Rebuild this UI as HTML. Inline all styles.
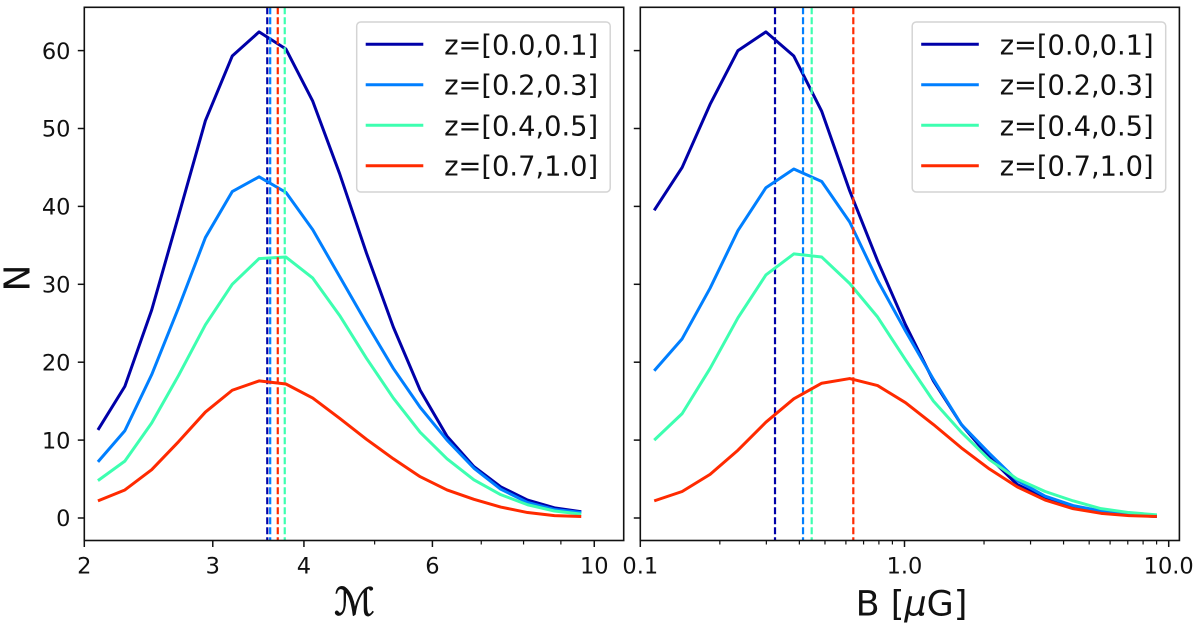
<!DOCTYPE html>
<html>
<head>
<meta charset="utf-8">
<title>Distribution chart</title>
<style>
html,body{margin:0;padding:0;background:#fff;width:1200px;height:627px;overflow:hidden}
svg{display:block;filter:blur(0.35px)}
text{font-family:"DejaVu Sans","Liberation Sans",sans-serif;fill:#111}
</style>
</head>
<body>
<svg id="chart" xmlns="http://www.w3.org/2000/svg" width="1200" height="627" viewBox="0 0 1200 627"></svg>
<script>
const seriesLabels = ["z=[0.0,0.1]", "z=[0.2,0.3]", "z=[0.4,0.5]", "z=[0.7,1.0]"];
const seriesColors = ["#0000a8", "#007fff", "#3dffb0", "#ff2a00"];

const machValues = [2.088,2.273,2.474,2.693,2.931,3.190,3.472,3.779,4.113,4.477,4.873,5.304,5.773,6.283,6.839,7.443,8.102,8.818,9.598];
const machCounts0 = [11.3,16.9,26.7,38.8,51,59.3,62.4,60.2,53.5,44.2,34,24.5,16.4,10.5,6.6,4,2.3,1.3,0.8];
const machCounts1 = [7.2,11.2,18.4,27,36,41.9,43.8,41.8,37,31,25,19.2,14.2,10,6.4,3.7,2,1.1,0.7];
const machCounts2 = [4.8,7.3,12.2,18.3,24.8,30,33.3,33.5,30.8,26,20.5,15.4,11,7.6,4.9,3,1.7,0.9,0.5];
const machCounts3 = [2.2,3.6,6.2,9.8,13.6,16.4,17.6,17.2,15.4,12.8,10.1,7.6,5.3,3.6,2.4,1.4,0.7,0.3,0.2];
const machMeans = [3.563,3.596,3.765,3.683];

const fieldValues = [0.1129,0.144,0.1837,0.2342,0.2988,0.3811,0.4861,0.6202,0.7911,1.009,1.287,1.642,2.094,2.671,3.407,4.346,5.544,7.072,9.02];
const fieldCounts0 = [39.5,45,53.1,60,62.4,59.3,52.2,42,33,24.8,17.6,12,7.8,4.3,2.5,1.4,0.8,0.4,0.2];
const fieldCounts1 = [18.9,23,29.5,36.9,42.4,44.8,43.2,38,30.5,24,17.8,12,8.3,4.8,2.8,1.6,0.9,0.5,0.3];
const fieldCounts2 = [10,13.4,19.2,25.7,31.2,33.9,33.5,30.1,25.8,20.3,15,11,7.5,5,3.4,2.2,1.2,0.7,0.4];
const fieldCounts3 = [2.2,3.4,5.6,8.7,12.3,15.3,17.3,17.9,17,14.8,12,9,6.3,4,2.3,1.2,0.6,0.3,0.2];
const fieldMeans = [0.3235,0.413,0.4454,0.6401];

const yTickValues = [0,10,20,30,40,50,60];
const machMajorTicks = [2,3,4,6,10];
const machMajorLabels = ["2","3","4","6","10"];
const machMinorTicks = [5,7,8,9];
const fieldMajorTicks = [0.1,1,10];
const fieldMajorLabels = ["0.1","1.0","10.0"];
const fieldMinorTicks = [0.2,0.3,0.4,0.5,0.6,0.7,0.8,0.9,2,3,4,5,6,7,8,9];

const NS = "http://www.w3.org/2000/svg";
const root = document.getElementById("chart");
const TOP = 7.3, BOTTOM = 540.5;

function yScale(v){ return 518 - v * 7.79; }
function logScale(v, x0, v0, pxPerDecade){ return x0 + (Math.log10(v) - Math.log10(v0)) * pxPerDecade; }
function machX(v){ return logScale(v, 84.3, 2, 729.6); }
function fieldX(v){ return logScale(v, 640.3, 0.1, 264.2); }

function mk(tag, attrs, parent){
  const el = document.createElementNS(NS, tag);
  for (const k in attrs) el.setAttribute(k, attrs[k]);
  (parent || root).appendChild(el);
  return el;
}

function drawPanel(cfg){
  const g = mk("g", {});
  
  

  cfg.series.forEach(function(vals, i){
    const pts = vals.map(function(v, j){ return cfg.x(cfg.xs[j]).toFixed(2) + "," + yScale(v).toFixed(2); }).join(" ");
    const line = mk("polyline", {points: pts, fill: "none", stroke: seriesColors[i], "stroke-width": 3, "stroke-linejoin": "round"}, g);
    
    
    const mx = cfg.x(cfg.means[i]);
    const vl = mk("line", {x1: mx, x2: mx, y1: TOP, y2: BOTTOM, stroke: seriesColors[i], "stroke-width": 2.2, "stroke-dasharray": "7 3"}, g);
    
    
  });

  const frame = mk("rect", {x: cfg.left, y: TOP, width: cfg.right - cfg.left, height: BOTTOM - TOP, fill: "none", stroke: "#111", "stroke-width": 1.6}, g);
  
  

  yTickValues.forEach(function(v){
    const y = yScale(v);
    const t = mk("line", {x1: cfg.left - 6.5, x2: cfg.left, y1: y, y2: y, stroke: "#111", "stroke-width": 1.5}, g);
    
    
    if (cfg.yLabels) {
      const lb = mk("text", {x: 70.5, y: y + 8.2, "text-anchor": "end", "font-size": 22.5}, g);
      lb.textContent = String(v);
      
      
    }
  });

  cfg.major.forEach(function(v, i){
    const x = cfg.x(v);
    const t = mk("line", {x1: x, x2: x, y1: BOTTOM, y2: BOTTOM + 6.5, stroke: "#111", "stroke-width": 1.5}, g);
    
    
    const lb = mk("text", {x: x, y: 573.5, "text-anchor": "middle", "font-size": 22.5}, g);
    lb.textContent = cfg.majorLabels[i];
    
    
  });
  cfg.minor.forEach(function(v){
    const x = cfg.x(v);
    const t = mk("line", {x1: x, x2: x, y1: BOTTOM, y2: BOTTOM + 4, stroke: "#111", "stroke-width": 1.2}, g);
    
    
  });

  const lg = mk("g", {}, g);
  
  
  mk("rect", {x: cfg.legendX, y: 22, width: 253.5, height: 170, rx: 4, ry: 4, fill: "#fff", "fill-opacity": 0.8, stroke: "#d4d4d4", "stroke-width": 1.5}, lg);
  const rowY = [44.3, 84.7, 125.3, 165.7];
  seriesLabels.forEach(function(label, i){
    const k = mk("line", {x1: cfg.legendX + 9, x2: cfg.legendX + 66.6, y1: rowY[i], y2: rowY[i], stroke: seriesColors[i], "stroke-width": 3}, lg);
    
    
    const tx = mk("text", {x: cfg.legendX + 87.5, y: rowY[i] + 10, "font-size": 27.3}, lg);
    tx.textContent = label;
    
    
  });
}

drawPanel({name: "mach", left: 84.3, right: 623.7, x: machX, xs: machValues,
  series: [machCounts0, machCounts1, machCounts2, machCounts3], means: machMeans,
  major: machMajorTicks, majorLabels: machMajorLabels, minor: machMinorTicks, yLabels: true, legendX: 356.7});
drawPanel({name: "field", left: 640.3, right: 1179.4, x: fieldX, xs: fieldValues,
  series: [fieldCounts0, fieldCounts1, fieldCounts2, fieldCounts3], means: fieldMeans,
  major: fieldMajorTicks, majorLabels: fieldMajorLabels, minor: fieldMinorTicks, yLabels: false, legendX: 912.2});

const yTitle = mk("text", {x: 0, y: 0, "font-size": 36, "text-anchor": "middle", transform: "translate(29.3 278) rotate(-90)"});
yTitle.textContent = "N";



const xTitleLeft = mk("text", {x: 354.5, y: 615, "font-size": 38, "text-anchor": "middle", stroke: "#111", "stroke-width": 0.8, style: "font-family:'DejaVu Sans',serif"});
xTitleLeft.textContent = "\u2133";



const xTitleRight = mk("text", {x: 911.5, y: 615.5, "font-size": 35, "text-anchor": "middle"});


xTitleRight.appendChild(document.createTextNode("B ["));
const mu = mk("tspan", {"font-style": "italic"}, xTitleRight);
mu.textContent = "\u03BC";
xTitleRight.appendChild(document.createTextNode("G]"));
</script>
</body>
</html>
